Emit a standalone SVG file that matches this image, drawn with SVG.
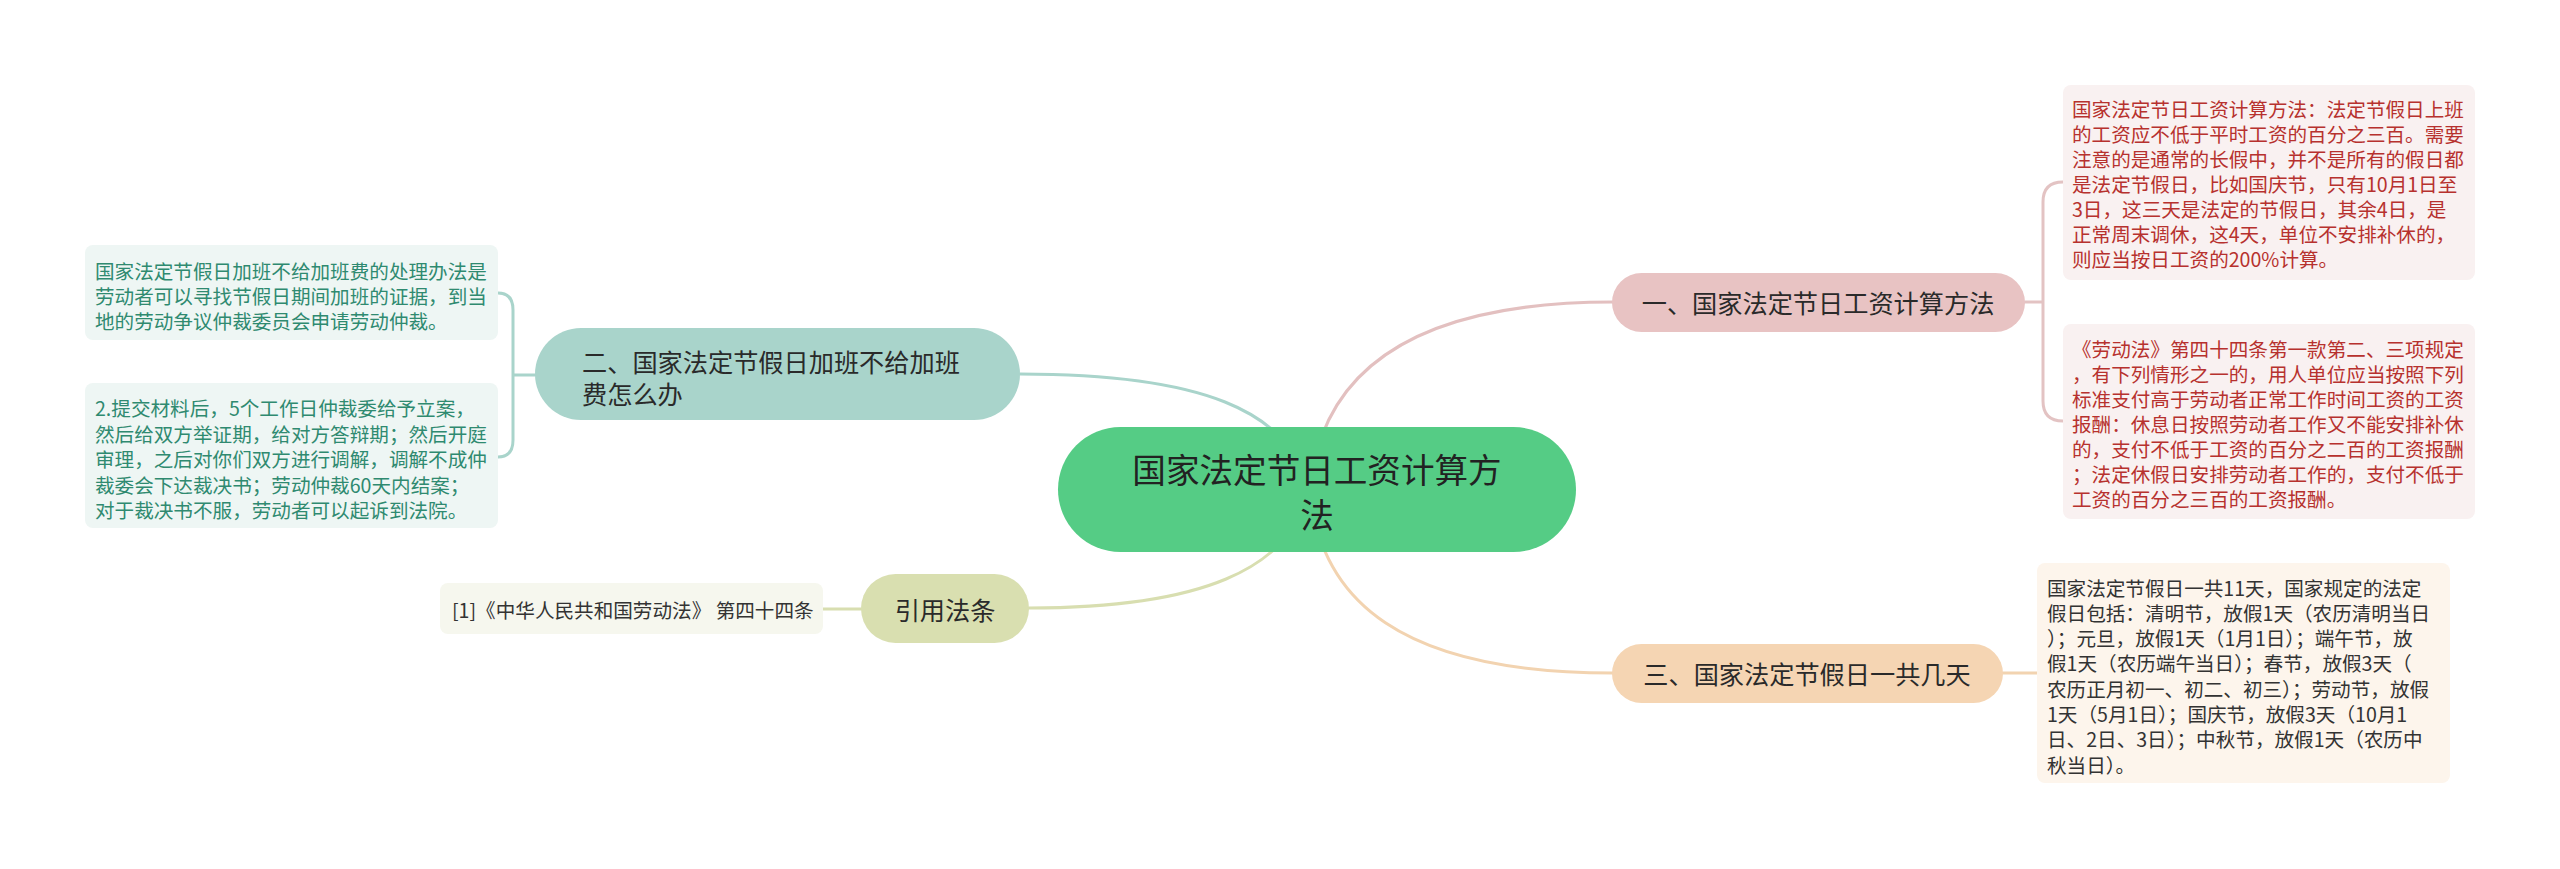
<svg xmlns="http://www.w3.org/2000/svg" width="2560" height="869" viewBox="0 0 2560 869">
<style>
text{font-family:"Noto Sans CJK SC","Noto Sans",sans-serif;dominant-baseline:central}
.c{fill:none;stroke-width:3;stroke-linecap:round}
.leaf{font-size:19.6px}
.br{font-size:25.2px;fill:#2a2a2a}
.red{fill:#b7312e}
.grn{fill:#2f8a70}
.dk{fill:#333333}
</style>
<rect width="2560" height="869" fill="#ffffff"/>
<g id="connectors">
<path class="c" stroke="#e3c0c0" d="M1310 490 C1320 380 1400 302 1613 302"/>
<path class="c" stroke="#f2d3b0" d="M1310 490 C1320 600 1400 673 1613 673"/>
<path class="c" stroke="#a9d4cb" d="M1310 490 C1290 410 1200 374 1020 374"/>
<path class="c" stroke="#d8deb0" d="M1310 490 C1290 570 1200 608 1029 608"/>
<path class="c" stroke="#e3c3c3" d="M2025 302 H2043 M2063 182 Q2043 182 2043 202 V401 Q2043 421 2063 421"/>
<path class="c" stroke="#a9d4cb" d="M535 375 H513 M498 293 Q513 293 513 310 V440 Q513 457 498 457"/>
<path class="c" stroke="#f2d3b0" d="M2003 673 H2037"/>
<path class="c" stroke="#d8deb0" d="M861 609 H823"/>
</g>
<g id="root">
<rect x="1058" y="427" width="518" height="125" rx="62.5" fill="#55cc85"/>
<text x="1317" y="468" font-size="33.6" fill="#222" text-anchor="middle">国家法定节日工资计算方</text>
<text x="1317" y="513" font-size="33.6" fill="#222" text-anchor="middle">法</text>
</g>
<g id="branch1">
<rect x="1612" y="273" width="413" height="59" rx="29.5" fill="#e8c3c3"/>
<text class="br" x="1818" y="302" text-anchor="middle">一、国家法定节日工资计算方法</text>
</g>
<g id="branch2">
<rect x="535" y="328" width="485" height="92" rx="46" fill="#a9d4cb"/>
<text class="br" x="582" y="361">二、国家法定节假日加班不给加班</text>
<text class="br" x="582" y="393">费怎么办</text>
</g>
<g id="branch3">
<rect x="1612" y="644" width="391" height="59" rx="29.5" fill="#f5d5b3"/>
<text class="br" x="1807" y="673" text-anchor="middle">三、国家法定节假日一共几天</text>
</g>
<g id="branch4">
<rect x="861" y="574" width="168" height="69" rx="34.5" fill="#d9dfb0"/>
<text class="br" x="945" y="609" text-anchor="middle">引用法条</text>
</g>
<g id="leaf1">
<rect x="2063" y="85" width="412" height="195" rx="8" fill="#f9f1f1"/>
<text class="leaf red" x="2072" y="108">国家法定节日工资计算方法：法定节假日上班</text>
<text class="leaf red" x="2072" y="133">的工资应不低于平时工资的百分之三百。需要</text>
<text class="leaf red" x="2072" y="158">注意的是通常的长假中，并不是所有的假日都</text>
<text class="leaf red" x="2072" y="183">是法定节假日，比如国庆节，只有10月1日至</text>
<text class="leaf red" x="2072" y="208">3日，这三天是法定的节假日，其余4日，是</text>
<text class="leaf red" x="2072" y="233">正常周末调休，这4天，单位不安排补休的，</text>
<text class="leaf red" x="2072" y="258">则应当按日工资的200%计算。</text>
</g>
<g id="leaf2">
<rect x="2063" y="324" width="412" height="195" rx="8" fill="#f9f1f1"/>
<text class="leaf red" x="2072" y="348">《劳动法》第四十四条第一款第二、三项规定</text>
<text class="leaf red" x="2072" y="373">，有下列情形之一的，用人单位应当按照下列</text>
<text class="leaf red" x="2072" y="398">标准支付高于劳动者正常工作时间工资的工资</text>
<text class="leaf red" x="2072" y="423">报酬：休息日按照劳动者工作又不能安排补休</text>
<text class="leaf red" x="2072" y="448">的，支付不低于工资的百分之二百的工资报酬</text>
<text class="leaf red" x="2072" y="473">；法定休假日安排劳动者工作的，支付不低于</text>
<text class="leaf red" x="2072" y="498">工资的百分之三百的工资报酬。</text>
</g>
<g id="leaf3">
<rect x="2037" y="563" width="413" height="220" rx="8" fill="#fdf5ec"/>
<text class="leaf dk" x="2047" y="587">国家法定节假日一共11天，国家规定的法定</text>
<text class="leaf dk" x="2047" y="612">假日包括：清明节，放假1天（农历清明当日</text>
<text class="leaf dk" x="2047" y="637">）；元旦，放假1天（1月1日）；端午节，放</text>
<text class="leaf dk" x="2047" y="662">假1天（农历端午当日）；春节，放假3天（</text>
<text class="leaf dk" x="2047" y="688">农历正月初一、初二、初三）；劳动节，放假</text>
<text class="leaf dk" x="2047" y="713">1天（5月1日）；国庆节，放假3天（10月1</text>
<text class="leaf dk" x="2047" y="738">日、2日、3日）；中秋节，放假1天（农历中</text>
<text class="leaf dk" x="2047" y="764">秋当日）。</text>
</g>
<g id="leaf4">
<rect x="85" y="245" width="413" height="95" rx="8" fill="#eef6f4"/>
<text class="leaf grn" x="95" y="270">国家法定节假日加班不给加班费的处理办法是</text>
<text class="leaf grn" x="95" y="295">劳动者可以寻找节假日期间加班的证据，到当</text>
<text class="leaf grn" x="95" y="320">地的劳动争议仲裁委员会申请劳动仲裁。</text>
</g>
<g id="leaf5">
<rect x="85" y="383" width="413" height="145" rx="8" fill="#eef6f4"/>
<text class="leaf grn" x="95" y="407">2.提交材料后，5个工作日仲裁委给予立案，</text>
<text class="leaf grn" x="95" y="433">然后给双方举证期，给对方答辩期；然后开庭</text>
<text class="leaf grn" x="95" y="458">审理，之后对你们双方进行调解，调解不成仲</text>
<text class="leaf grn" x="95" y="484">裁委会下达裁决书；劳动仲裁60天内结案；</text>
<text class="leaf grn" x="95" y="509">对于裁决书不服，劳动者可以起诉到法院。</text>
</g>
<g id="leaf6">
<rect x="440" y="583" width="383" height="51" rx="8" fill="#f6f7ee"/>
<text class="leaf dk" x="452" y="609">[1]《中华人民共和国劳动法》 第四十四条</text>
</g>
</svg>
